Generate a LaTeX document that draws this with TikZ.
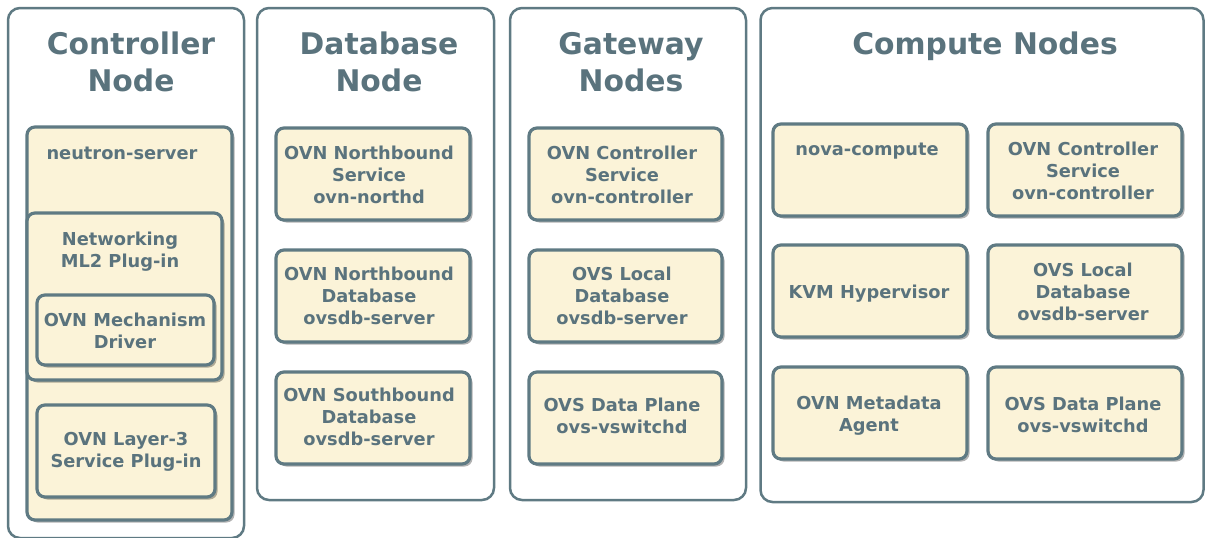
\documentclass[tikz,border=0pt]{standalone}
\usepackage{fontspec}
\setmainfont{DejaVu Sans}
\usetikzlibrary{shadows}
\definecolor{edge}{HTML}{5F7A83}
\definecolor{boxfill}{HTML}{FBF3D8}
\definecolor{txt}{HTML}{5A737D}
\tikzset{
  panel/.style={draw=edge, line width=2.5pt, fill=white, rounded corners=12pt, inner sep=0pt},
  comp/.style={draw=edge, line width=3.2pt, fill=boxfill, rounded corners=8pt, inner sep=0pt,
    drop shadow={shadow xshift=2.5pt, shadow yshift=-2.5pt, opacity=0.3, fill=black}},
  ttl/.style={text=txt, font=\fontsize{29.8}{37}\selectfont\bfseries, align=center, inner sep=0pt},
  lbl/.style={text=txt, font=\fontsize{17.8}{22}\selectfont\bfseries, align=center, inner sep=0pt},
}
\begin{document}
\begin{tikzpicture}[x=1pt, y=-1pt]
\useasboundingbox (0,0) rectangle (1205,538);
% panels
\node[panel, minimum width=236pt, minimum height=530pt] (pctrl) at (126,273) {};
\node[panel, minimum width=237pt, minimum height=492pt] (pdb) at (375.5,254) {};
\node[panel, minimum width=236pt, minimum height=492pt] (pgw) at (628,254) {};
\node[panel, minimum width=443pt, minimum height=494pt] (pcmp) at (982,255) {};
% titles
\node[ttl] (tctrl) at (131,62) {Controller\\Node};
\node[ttl] (tdb) at (379,62) {Database\\Node};
\node[ttl] (tgw) at (631,62) {Gateway\\Nodes};
\node[ttl] (tcmp) at (985,46) {Compute Nodes};
% controller
\node[comp, minimum width=205pt, minimum height=393pt] (neutron) at (129.5,323.5) {};
\node[lbl, anchor=base] (lneutron) at (122,159) {neutron-server};
\node[comp, minimum width=195pt, minimum height=167pt] (ml2) at (124.5,296.5) {};
\node[lbl] (lml2) at (120,252) {Networking\\ML2 Plug-in};
\node[comp, minimum width=177pt, minimum height=70pt] (mech) at (125.5,330) {};
\node[lbl] (lmech) at (125,331) {OVN Mechanism\\Driver};
\node[comp, minimum width=178pt, minimum height=92pt] (l3) at (126,451) {};
\node[lbl] (ll3) at (126,452) {OVN Layer-3\\Service Plug-in};
% database
\node[comp, minimum width=194pt, minimum height=92pt] (nbs) at (373,174) {};
\node[lbl] (lnbs) at (369,175) {OVN Northbound\\Service\\ovn-northd};
\node[comp, minimum width=194pt, minimum height=92pt] (nbdb) at (373,296) {};
\node[lbl] (lnbdb) at (369,296) {OVN Northbound\\Database\\ovsdb-server};
\node[comp, minimum width=194pt, minimum height=92pt] (sbdb) at (373,418) {};
\node[lbl] (lsbdb) at (369,417) {OVN Southbound\\Database\\ovsdb-server};
% gateway
\node[comp, minimum width=193pt, minimum height=92pt] (gctl) at (625.5,174) {};
\node[lbl] (lgctl) at (622,175) {OVN Controller\\Service\\ovn-controller};
\node[comp, minimum width=193pt, minimum height=92pt] (gdb) at (625.5,296) {};
\node[lbl] (lgdb) at (622,296) {OVS Local\\Database\\ovsdb-server};
\node[comp, minimum width=193pt, minimum height=92pt] (gdp) at (625.5,418) {};
\node[lbl] (lgdp) at (622,416) {OVS Data Plane\\ovs-vswitchd};
% compute
\node[comp, minimum width=194pt, minimum height=92pt] (nova) at (870,170) {};
\node[lbl, anchor=base] (lnova) at (867,155) {nova-compute};
\node[comp, minimum width=194pt, minimum height=92pt] (cctl) at (1085,170) {};
\node[lbl] (lcctl) at (1083,171) {OVN Controller\\Service\\ovn-controller};
\node[comp, minimum width=194pt, minimum height=92pt] (kvm) at (870,291) {};
\node[lbl] (lkvm) at (869,294) {KVM Hypervisor};
\node[comp, minimum width=194pt, minimum height=92pt] (cdb) at (1085,291) {};
\node[lbl] (lcdb) at (1083,292) {OVS Local\\Database\\ovsdb-server};
\node[comp, minimum width=194pt, minimum height=92pt] (meta) at (870,413) {};
\node[lbl] (lmeta) at (869,416) {OVN Metadata\\Agent};
\node[comp, minimum width=194pt, minimum height=92pt] (cdp) at (1085,413) {};
\node[lbl] (lcdp) at (1083,415) {OVS Data Plane\\ovs-vswitchd};
\end{tikzpicture}
\end{document}
